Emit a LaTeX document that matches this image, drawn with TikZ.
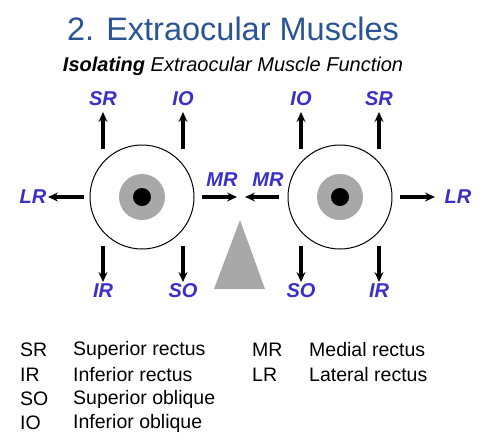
\documentclass[tikz,border=0pt]{standalone}
\usepackage{fontspec}
\setmainfont{Liberation Sans}
\usetikzlibrary{arrows.meta}
\definecolor{titleblue}{HTML}{2B5592}
\definecolor{lblblue}{HTML}{3A2FC8}
\definecolor{irisgray}{HTML}{A8A8A8}
\begin{document}
\begin{tikzpicture}[x=1pt,y=-1pt,
  mus/.style={line width=3.2pt,-{Stealth[length=10pt,width=9pt,inset=3.5pt]}},
  lbl/.style={text=lblblue,font=\fontsize{20}{23}\selectfont\bfseries\itshape,inner sep=0pt},
  leg/.style={font=\fontsize{19.5}{22}\selectfont,inner sep=0pt,anchor=west},
  eye/.style={circle,draw,line width=1pt,minimum size=104pt,inner sep=0pt},
  iris/.style={circle,fill=irisgray,minimum size=46pt,inner sep=0pt},
  pupil/.style={circle,fill=black,minimum size=18pt,inner sep=0pt}]
\useasboundingbox (0,0) rectangle (500,445);
\node[text=titleblue,font=\fontsize{32.5}{38}\selectfont,inner sep=0pt] (title) at (233,29) {2. Extraocular Muscles};
\node[font=\fontsize{20}{24}\selectfont\itshape,inner sep=0pt] (sub) at (233,66) {\textbf{Isolating} Extraocular Muscle Function};
% left eye
\node[eye] (eL) at (142,197) {};
\node[iris] (iL) at (142,197) {};
\node[pupil] (pL) at (142,197) {};
% right eye
\node[eye] (eR) at (340,197) {};
\node[iris] (iR) at (340,197) {};
\node[pupil] (pR) at (340,197) {};
% coordinates of arrows, left eye
\coordinate (lSRa) at (103,149); \coordinate (lSRb) at (103,112);
\coordinate (lIOa) at (183,149); \coordinate (lIOb) at (183,112);
\coordinate (lLRa) at (84,197); \coordinate (lLRb) at (48,197);
\coordinate (lMRa) at (202,197); \coordinate (lMRb) at (237,197);
\coordinate (lIRa) at (103,246); \coordinate (lIRb) at (103,282);
\coordinate (lSOa) at (183,246); \coordinate (lSOb) at (183,282);
\draw[mus] (lSRa) -- (lSRb);
\draw[mus] (lIOa) -- (lIOb);
\draw[mus] (lLRa) -- (lLRb);
\draw[mus] (lMRa) -- (lMRb);
\draw[mus] (lIRa) -- (lIRb);
\draw[mus] (lSOa) -- (lSOb);
\node[lbl] (tlSR) at (103,99) {SR};
\node[lbl] (tlIO) at (183,99) {IO};
\node[lbl] (tlLR) at (33,197) {LR};
\node[lbl] (tlMR) at (222,180) {MR};
\node[lbl] (tlIR) at (103,291) {IR};
\node[lbl] (tlSO) at (183,291) {SO};
% right eye arrows
\coordinate (rIOa) at (301,149); \coordinate (rIOb) at (301,112);
\coordinate (rSRa) at (379,149); \coordinate (rSRb) at (379,112);
\coordinate (rMRa) at (279,197); \coordinate (rMRb) at (245,197);
\coordinate (rLRa) at (400,197); \coordinate (rLRb) at (435,197);
\coordinate (rSOa) at (301,246); \coordinate (rSOb) at (301,282);
\coordinate (rIRa) at (379,246); \coordinate (rIRb) at (379,282);
\draw[mus] (rIOa) -- (rIOb);
\draw[mus] (rSRa) -- (rSRb);
\draw[mus] (rMRa) -- (rMRb);
\draw[mus] (rLRa) -- (rLRb);
\draw[mus] (rSOa) -- (rSOb);
\draw[mus] (rIRa) -- (rIRb);
\node[lbl] (trIO) at (301,99) {IO};
\node[lbl] (trSR) at (379,99) {SR};
\node[lbl] (trMR) at (268,180) {MR};
\node[lbl] (trLR) at (458,197) {LR};
\node[lbl] (trSO) at (301,291) {SO};
\node[lbl] (trIR) at (379,291) {IR};
% nose triangle
\fill[irisgray] (240,220) -- (214,289) -- (265,289) -- cycle;
% legend
\node[leg] (k1) at (20,350) {SR};
\node[leg] (d1) at (73,350) {Superior rectus};
\node[leg] (k2) at (20,375) {IR};
\node[leg] (d2) at (73,375) {Inferior rectus};
\node[leg] (k3) at (20,399) {SO};
\node[leg] (d3) at (73,399) {Superior oblique};
\node[leg] (k4) at (20,423) {IO};
\node[leg] (d4) at (73,423) {Inferior oblique};
\node[leg] (k5) at (252,350) {MR};
\node[leg] (d5) at (309,350) {Medial rectus};
\node[leg] (k6) at (252,375) {LR};
\node[leg] (d6) at (309,375) {Lateral rectus};
\end{tikzpicture}
\end{document}
